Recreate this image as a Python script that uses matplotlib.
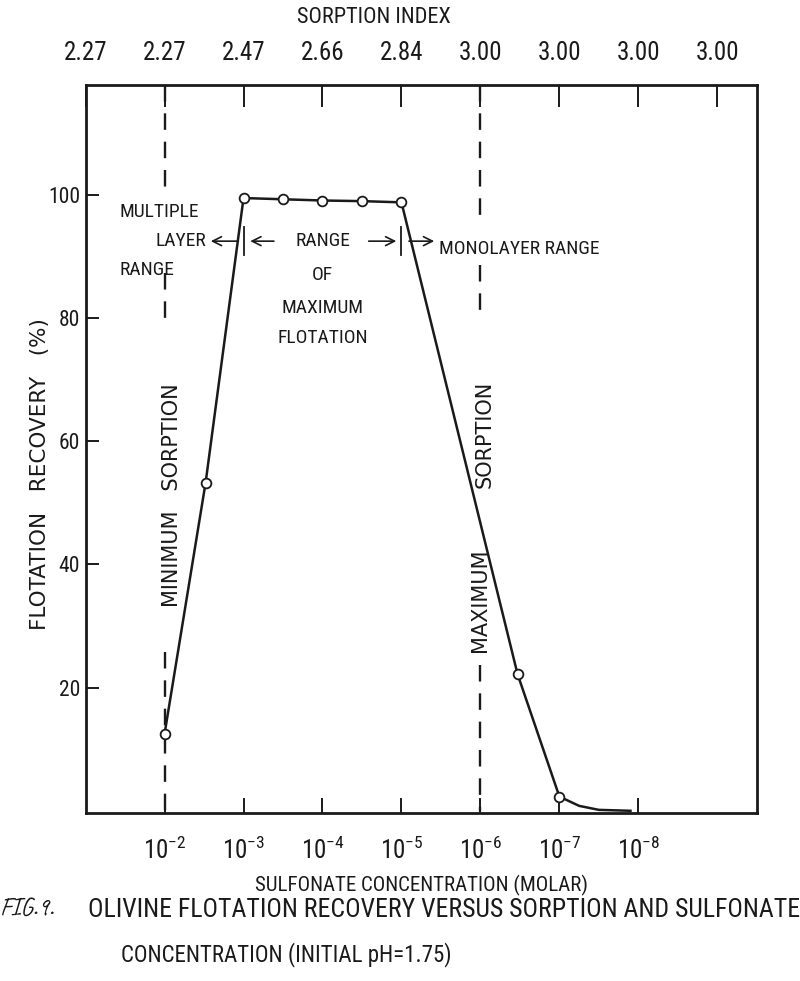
import matplotlib
matplotlib.use('Agg')
import matplotlib.pyplot as plt
from matplotlib import font_manager as fm

# ---------------- data ----------------
conc_exp = [2, 3, 4, 5, 6, 7, 8]                      # -log10(molar)
conc_labels = ['$\\mathregular{10^{-%d}}$' % e for e in conc_exp]
sorption_pos = [1, 2, 3, 4, 5, 6, 7, 8, 9]
sorption_labels = ['2.27', '2.27', '2.47', '2.66', '2.84', '3.00', '3.00', '3.00', '3.00']
yticks = [20, 40, 60, 80, 100]

meas_x = [2.0, 2.52, 3.0, 3.5, 4.0, 4.5, 5.0, 6.47, 7.0]
meas_y = [12.5, 53.3, 99.5, 99.3, 99.1, 99.0, 98.8, 22.2, 2.3]
tail_x = [7.0, 7.25, 7.5, 7.9]
tail_y = [2.3, 0.8, 0.15, 0.0]

min_sorption_x = 2.0
max_sorption_x = 6.0

# ---------------- fonts ----------------
available = {f.name for f in fm.fontManager.ttflist}
def pick(cands, default):
    for c in cands:
        if c in available:
            return c
    return default

narrow = pick(['Roboto Condensed', 'Liberation Sans Narrow', 'Archivo Narrow',
               'PT Sans Narrow', 'Fira Sans Condensed', 'Pragati Narrow'], 'DejaVu Sans')
hand = pick(['Caveat', 'Indie Flower', 'Patrick Hand', 'Shadows Into Light'], narrow)
NARROW = [narrow, 'DejaVu Sans']
WIDE = ['DejaVu Sans']
HAND = [hand, 'DejaVu Sans']
plt.rcParams['font.family'] = NARROW
plt.rcParams['mathtext.fontset'] = 'custom'
plt.rcParams['mathtext.rm'] = narrow
INK = '#1a1a1a'

fig = plt.figure(figsize=(8.0, 9.81), dpi=100)
ax = fig.add_axes([0.107, 0.171, 0.839, 0.742])
ax.set_xlim(1.0, 9.5)
ax.set_ylim(-0.4, 117.8)

for s in ax.spines.values():
    s.set_linewidth(2.0)
    s.set_color(INK)

# curve
ax.plot(meas_x + tail_x[1:], meas_y + tail_y[1:], color=INK, lw=1.8, zorder=3)
ax.plot(meas_x, meas_y, ls='none', marker='o', ms=7, mfc='white', mec=INK,
        mew=1.3, zorder=4)

# dashed vertical reference lines (broken around their text)
dash = dict(color=INK, lw=1.7, ls=(0, (7, 5)), zorder=2)
for y0, y1 in [(117.8, 100.4), (87.4, 79.2), (25.8, 0)]:
    ax.plot([min_sorption_x, min_sorption_x], [y0, y1], **dash)
for y0, y1 in [(117.8, 96.2), (88.6, 80.0), (23.7, 0)]:
    ax.plot([max_sorption_x, max_sorption_x], [y0, y1], **dash)

# rotated labels
rot = dict(rotation=90, ha='center', va='center', fontsize=15, family=WIDE, color=INK)
ax.text(min_sorption_x + 0.09, 51.2, 'MINIMUM   SORPTION', **rot)
ax.text(max_sorption_x + 0.05, 61.1, 'SORPTION', **rot)
ax.text(max_sorption_x + 0.0, 34.2, 'MAXIMUM', **rot)

# range annotations
fs = 14
ax.text(1.43, 97.2, 'MULTIPLE', ha='left', va='center', fontsize=fs, color=INK)
ax.text(2.53, 92.5, 'LAYER', ha='right', va='center', fontsize=fs, color=INK)
ax.text(1.43, 87.8, 'RANGE', ha='left', va='center', fontsize=fs, color=INK)
ax.text(4.0, 92.5, 'RANGE', ha='center', va='center', fontsize=fs, color=INK)
ax.text(4.0, 87.0, 'OF', ha='center', va='center', fontsize=fs, color=INK)
ax.text(4.0, 81.6, 'MAXIMUM', ha='center', va='center', fontsize=fs, color=INK)
ax.text(4.0, 76.8, 'FLOTATION', ha='center', va='center', fontsize=fs, color=INK)
ax.text(5.47, 91.2, 'MONOLAYER RANGE', ha='left', va='center', fontsize=fs, color=INK)

ap = dict(arrowstyle='->', color=INK, lw=1.2, mutation_scale=16)
ax.annotate('', xy=(2.55, 92.5), xytext=(2.97, 92.5), arrowprops=ap)
ax.annotate('', xy=(3.05, 92.5), xytext=(3.42, 92.5), arrowprops=ap)
ax.annotate('', xy=(4.97, 92.5), xytext=(4.55, 92.5), arrowprops=ap)
ax.annotate('', xy=(5.45, 92.5), xytext=(5.06, 92.5), arrowprops=ap)
for xv in (3.0, 5.0):
    ax.plot([xv, xv], [90.2, 94.8], color=INK, lw=1.3)

# bottom axis
ax.set_xticks(conc_exp)
ax.set_xticklabels(conc_labels, fontsize=18, color=INK)
ax.tick_params(axis='x', direction='in', length=11, width=1.4, pad=17, colors=INK)
ax.set_xlabel('SULFONATE CONCENTRATION (MOLAR)', fontsize=15, color=INK, labelpad=8)

# left axis
ax.set_yticks(yticks)
ax.set_yticklabels([str(v) for v in yticks], fontsize=15.5, color=INK)
ax.tick_params(axis='y', direction='in', length=9, width=1.4, pad=4, colors=INK)
fig.text(40 / 800, 1 - 630 / 981, 'FLOTATION   RECOVERY   (%)', rotation=90,
         rotation_mode='anchor', ha='left', va='center', fontsize=15.5,
         family=WIDE, color=INK)

# top axis (sorption index)
top = ax.twiny()
top.set_xlim(ax.get_xlim())
top.set_xticks(sorption_pos)
top.set_xticklabels(sorption_labels, fontsize=18, color=INK)
top.tick_params(axis='x', direction='in', length=16, width=1.4, pad=15, colors=INK)
top.set_xlabel('SORPTION INDEX', fontsize=16, color=INK, labelpad=10)
top.xaxis.set_label_coords(0.43, 1.085)
for s in top.spines.values():
    s.set_visible(False)

# caption
fig.text(0.0, 0.072, 'FIG.9.', fontsize=18, color=INK, family=HAND,
         ha='left', va='center')
fig.text(0.11, 0.072, 'OLIVINE FLOTATION RECOVERY VERSUS SORPTION AND SULFONATE',
         fontsize=18.5, color=INK, ha='left', va='center')
fig.text(0.151, 0.027, 'CONCENTRATION (INITIAL pH=1.75)',
         fontsize=16.5, color=INK, ha='left', va='center')

fig.savefig('out.png', dpi=100)
